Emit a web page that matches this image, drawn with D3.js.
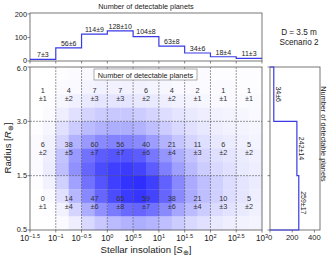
<!DOCTYPE html>
<html><head><meta charset="utf-8">
<script src="https://cdn.jsdelivr.net/npm/d3@7"></script>
<style>body{margin:0;background:#fff}svg{display:block}text{font-family:"Liberation Sans",Arial,sans-serif;fill:#222}</style>
</head><body><svg id="c" width="333" height="259"></svg>
<script>
// ---- data ----
const xExponents = [-1.5,-1,-0.5,0,0.5,1,1.5,2,2.5,3];
const xTickExp = ["\u22121.5","\u22121","\u22120.5","0","0.5","1","1.5","2","2.5","3"];
const radiusLabels = ["6.0","3.0","1.5","0.5"];
const cellCounts = [[1,4,7,7,6,4,2,1,1],[6,38,60,56,40,21,11,6,5],[0,14,47,65,59,38,21,10,5]];
const cellErrors = [[1,2,3,3,2,2,1,1,1],[2,5,7,7,6,4,3,2,2],[1,4,6,8,7,6,4,3,2]];
const topCounts = [7,56,114,128,104,63,34,18,11];
const topErrors = [3,6,9,10,8,8,6,4,3];
const rightCounts = [34,242,259];
const rightErrors = [6,14,17];
const topTicks = [0,100,200];
const rightTicks = [0,200,400];
// fine density shading (12 sub-rows top->bottom, 18 columns of 0.25 dex)
const density = [
 [0,0,0.01,0.02,0.03,0.04,0.04,0.04,0.04,0.03,0.03,0.02,0.02,0.02,0.01,0.01,0.01,0.01],
 [0,0,0.02,0.03,0.05,0.06,0.06,0.06,0.06,0.05,0.04,0.03,0.03,0.02,0.02,0.02,0.01,0.01],
 [0,0.01,0.04,0.07,0.1,0.12,0.12,0.12,0.11,0.1,0.08,0.06,0.05,0.04,0.03,0.03,0.02,0.02],
 [0,0.02,0.08,0.14,0.2,0.24,0.26,0.26,0.24,0.2,0.16,0.12,0.1,0.08,0.06,0.05,0.04,0.03],
 [0.01,0.04,0.14,0.24,0.32,0.36,0.38,0.38,0.36,0.3,0.24,0.18,0.14,0.11,0.08,0.06,0.05,0.04],
 [0.02,0.06,0.2,0.36,0.48,0.55,0.58,0.58,0.55,0.46,0.36,0.27,0.2,0.15,0.11,0.09,0.07,0.05],
 [0.02,0.08,0.28,0.48,0.66,0.76,0.8,0.8,0.76,0.64,0.5,0.38,0.28,0.2,0.15,0.12,0.09,0.07],
 [0.02,0.09,0.3,0.52,0.72,0.84,0.9,0.92,0.88,0.76,0.6,0.45,0.33,0.24,0.18,0.14,0.1,0.08],
 [0.01,0.06,0.22,0.44,0.66,0.8,0.9,0.96,0.98,0.9,0.74,0.56,0.4,0.3,0.22,0.16,0.12,0.09],
 [0,0.03,0.14,0.34,0.56,0.72,0.84,0.92,0.95,0.88,0.72,0.55,0.4,0.3,0.22,0.16,0.12,0.08],
 [0,0.01,0.06,0.2,0.38,0.52,0.62,0.7,0.72,0.66,0.55,0.42,0.32,0.24,0.17,0.13,0.1,0.07],
 [0,0,0.02,0.08,0.18,0.26,0.32,0.36,0.38,0.35,0.3,0.24,0.18,0.14,0.1,0.08,0.06,0.05]
];

// ---- layout ----
const svg = d3.select("#c");
const M = {l:30, r:262, t:67, b:230};
const x = d3.scaleLinear().domain([-1.5,3]).range([M.l,M.r]);
const y = d3.scaleLinear().domain([0,3]).range([M.t,M.b]);
const yTop = d3.scaleLinear().domain([0,204]).range([61,13]);
const xR = d3.scaleLinear().domain([0,450]).range([270,320]);
const color = d3.interpolateRgb("#ffffff","#2a2aff");
const frame = "#555", blue = "#3a3ae6", fs = 7.3;

// heatmap
const nSub = density.length, nCol = density[0].length;
const dx = 4.5/nCol, dy = 3/nSub;
density.forEach((row,i)=>row.forEach((v,j)=>{
  svg.append("rect").attr("x",x(-1.5+j*dx)).attr("y",y(i*dy))
    .attr("width",x(-1.5+(j+1)*dx)-x(-1.5+j*dx)+0.3).attr("height",y((i+1)*dy)-y(i*dy)+0.3)
    .attr("fill",color(v));
}));
// grid
xExponents.slice(1,-1).forEach(e=>svg.append("line").attr("x1",x(e)).attr("x2",x(e)).attr("y1",M.t).attr("y2",M.b)
  .attr("stroke","#555").attr("stroke-width",0.6).attr("stroke-dasharray","2,1"));
[1,2].forEach(k=>svg.append("line").attr("x1",M.l).attr("x2",M.r).attr("y1",y(k)).attr("y2",y(k))
  .attr("stroke","#555").attr("stroke-width",0.6).attr("stroke-dasharray","2,1"));
// cell text
cellCounts.forEach((row,i)=>row.forEach((c,j)=>{
  const cx = x(-1.5+0.5*j+0.25), cy = y(i+0.5);
  svg.append("text").attr("x",cx).attr("y",cy-1.5).attr("text-anchor","middle").attr("font-size",fs).style("fill","#333").text(c);
  svg.append("text").attr("x",cx).attr("y",cy+6.5).attr("text-anchor","middle").attr("font-size",fs).style("fill","#333").text("\u00b1"+cellErrors[i][j]);
}));
// main frame
svg.append("rect").attr("x",M.l).attr("y",M.t).attr("width",M.r-M.l).attr("height",M.b-M.t).attr("fill","none").attr("stroke",frame).attr("stroke-width",0.8);
// legend box
svg.append("rect").attr("x",94).attr("y",69).attr("width",103).attr("height",11).attr("fill","#fff").attr("stroke","#777").attr("stroke-width",0.6);
svg.append("text").attr("x",145.5).attr("y",77.5).attr("text-anchor","middle").attr("font-size",fs).text("Number of detectable planets");

// x ticks + labels
xExponents.forEach((e,i)=>{
  svg.append("line").attr("x1",x(e)).attr("x2",x(e)).attr("y1",M.b).attr("y2",M.b+2.5).attr("stroke",frame).attr("stroke-width",0.7);
  const t = svg.append("text").attr("x",x(e)).attr("y",241).attr("text-anchor","middle").attr("font-size",8.2);
  t.append("tspan").text("10");
  t.append("tspan").attr("dy",-3.5).attr("font-size",5.6).text(xTickExp[i]);
});
// y ticks + labels
radiusLabels.forEach((lab,k)=>{
  svg.append("line").attr("x1",M.l-2.5).attr("x2",M.l).attr("y1",y(k)).attr("y2",y(k)).attr("stroke",frame).attr("stroke-width",0.7);
  const off = k===0 ? 3.6 : (k===3 ? 1.6 : 2.7);
  svg.append("text").attr("x",M.l-3).attr("y",y(k)+off).attr("text-anchor","end").attr("font-size",7.4).text(lab);
});
// axis titles
const xl = svg.append("text").attr("x",146).attr("y",253).attr("text-anchor","middle").attr("font-size",9.6);
xl.append("tspan").text("Stellar insolation [");
xl.append("tspan").attr("font-style","italic").text("S");
xl.append("tspan").attr("dy",2).attr("font-size",6.5).text("\u2295");
xl.append("tspan").attr("dy",-2).text("]");
const yl = svg.append("text").attr("transform","translate(11,148) rotate(-90)").attr("text-anchor","middle").attr("font-size",9.6);
yl.append("tspan").text("Radius [");
yl.append("tspan").attr("font-style","italic").text("R");
yl.append("tspan").attr("dy",2).attr("font-size",6.5).text("\u2295");
yl.append("tspan").attr("dy",-2).text("]");

// ---- top histogram ----
svg.append("rect").attr("x",M.l).attr("y",13).attr("width",M.r-M.l).attr("height",48).attr("fill","none").attr("stroke",frame).attr("stroke-width",0.8);
const topPts = [];
topCounts.forEach((c,i)=>{ topPts.push([x(-1.5+0.5*i),yTop(c)]); topPts.push([x(-1.5+0.5*(i+1)),yTop(c)]); });
svg.append("path").attr("d",d3.line()(topPts)).attr("fill","none").attr("stroke",blue).attr("stroke-width",1.2);
topCounts.forEach((c,i)=>svg.append("text").attr("x",x(-1.5+0.5*i+0.25)).attr("y",yTop(c)-2.2).attr("text-anchor","middle").attr("font-size",fs-0.3).text(c+"\u00b1"+topErrors[i]));
topTicks.forEach(v=>{
  svg.append("line").attr("x1",M.l-2.5).attr("x2",M.l).attr("y1",yTop(v)).attr("y2",yTop(v)).attr("stroke",frame).attr("stroke-width",0.7);
  svg.append("text").attr("x",M.l-3).attr("y",yTop(v)+(v===0?1.6:2.7)).attr("text-anchor","end").attr("font-size",7.4).text(v);
});
xExponents.forEach(e=>svg.append("line").attr("x1",x(e)).attr("x2",x(e)).attr("y1",61).attr("y2",63.5).attr("stroke",frame).attr("stroke-width",0.7));
svg.append("text").attr("x",146).attr("y",9).attr("text-anchor","middle").attr("font-size",fs).text("Number of detectable planets");

// ---- right histogram ----
svg.append("rect").attr("x",270).attr("y",M.t).attr("width",50).attr("height",M.b-M.t).attr("fill","none").attr("stroke",frame).attr("stroke-width",0.8);
const rPts = [[xR(0),y(0)]];
rightCounts.forEach((c,i)=>{ rPts.push([xR(c),y(i)]); rPts.push([xR(c),y(i+1)]); });
rPts.push([xR(0),y(3)]);
svg.append("path").attr("d",d3.line()(rPts)).attr("fill","none").attr("stroke",blue).attr("stroke-width",1.2);
rightCounts.forEach((c,i)=>svg.append("text").attr("transform",`translate(${xR(c)+2},${y(i+0.5)}) rotate(90)`).attr("text-anchor","middle").attr("font-size",fs-0.3).text(c+"\u00b1"+rightErrors[i]));
[0,1,2,3].forEach(k=>svg.append("line").attr("x1",267.5).attr("x2",270).attr("y1",y(k)).attr("y2",y(k)).attr("stroke",frame).attr("stroke-width",0.7));
rightTicks.forEach(v=>{
  svg.append("line").attr("x1",xR(v)).attr("x2",xR(v)).attr("y1",M.b).attr("y2",M.b+2.5).attr("stroke",frame).attr("stroke-width",0.7);
  svg.append("text").attr("x",xR(v)).attr("y",240).attr("text-anchor","middle").attr("font-size",7.6).text(v);
});
svg.append("text").attr("transform","translate(321,134) rotate(90)").attr("text-anchor","middle").attr("font-size",fs).text("Number of detectable planets");
// annotation
svg.append("text").attr("x",299).attr("y",35).attr("text-anchor","middle").attr("font-size",8.2).text("D = 3.5 m");
svg.append("text").attr("x",299).attr("y",45).attr("text-anchor","middle").attr("font-size",8.2).text("Scenario 2");
</script></body></html>
